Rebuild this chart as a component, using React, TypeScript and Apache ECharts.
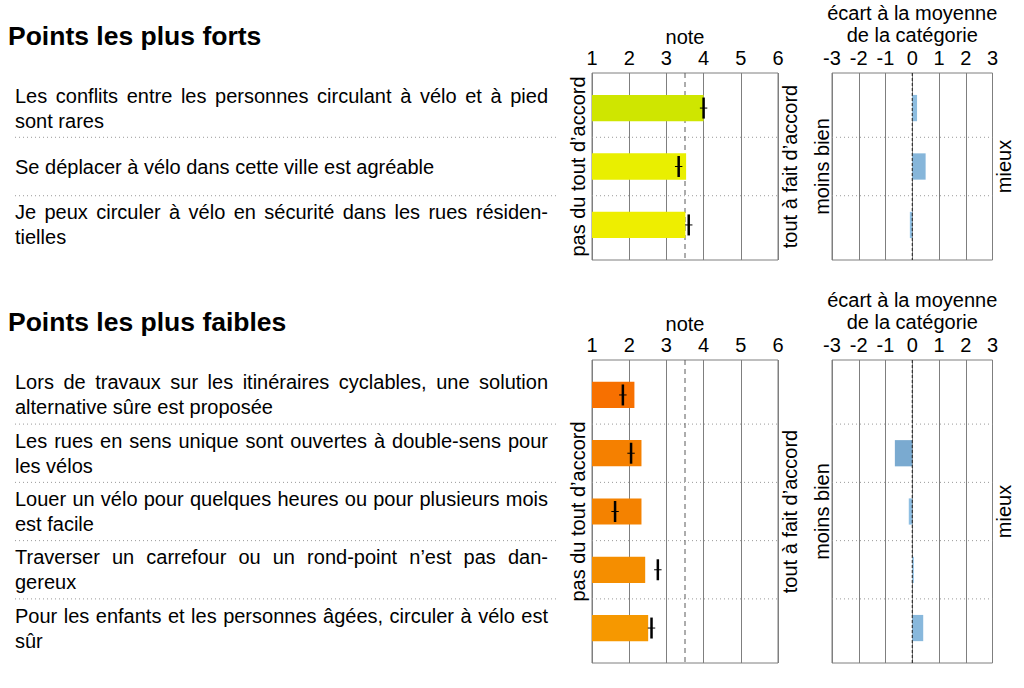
import React, { useEffect, useRef } from "react";
import * as echarts from "echarts";

const FONT = "'Liberation Sans', Arial, Helvetica, sans-serif";

// ---------- data ----------
const strongTitle = "Points les plus forts";
const weakTitle = "Points les plus faibles";

const strongLabels: string[][] = [
  ["Les conflits entre les personnes circulant à vélo et à pied", "sont rares"],
  ["Se déplacer à vélo dans cette ville est agréable"],
  ["Je peux circuler à vélo en sécurité dans les rues résiden-", "tielles"],
];
const strongNote = [4.0, 3.53, 3.51];
const strongMarker = [4.0, 3.33, 3.6];
const strongEcart = [0.18, 0.5, -0.09];
const strongColors = ["#cfe600", "#e9ef00", "#eeee00"];
const strongEcartColors = ["#8dbde0", "#86b6da", "#92c2e6"];

const weakLabels: string[][] = [
  ["Lors de travaux sur les itinéraires cyclables, une solution", "alternative sûre est proposée"],
  ["Les rues en sens unique sont ouvertes à double-sens pour", "les vélos"],
  ["Louer un vélo pour quelques heures ou pour plusieurs mois", "est facile"],
  ["Traverser un carrefour ou un rond-point n’est pas dan-", "gereux"],
  ["Pour les enfants et les personnes âgées, circuler à vélo est", "sûr"],
];
const weakNote = [2.14, 2.33, 2.33, 2.43, 2.51];
const weakMarker = [1.83, 2.05, 1.62, 2.77, 2.6];
const weakEcart = [0, -0.65, -0.13, 0.06, 0.41];
const weakColors = ["#f77000", "#f58000", "#f48200", "#f58e00", "#f69800"];
const weakEcartColors = ["#8dbde0", "#7aaad0", "#8fbfe3", "#96c6ea", "#88b8dc"];

const markerHalfWidth = 0.1;
const meanNote = 3.5;
const noteMin = 1;
const noteMax = 6;
const ecartMin = -3;
const ecartMax = 3;

const noteName = "note";
const ecartName = "écart à la moyenne\nde la catégorie";
const leftNoteName = "pas du tout d’accord";
const rightNoteName = "tout à fait d’accord";
const leftEcartName = "moins bien";
const rightEcartName = "mieux";

// ---------- layout ----------
const TEXT_SIZE = 20;
const LINE_H = 25;
const JUSTIFY_W = 533;
const BAR_H = 0.45;
const MARK_H = 0.36;

let measureCtx: CanvasRenderingContext2D | null = null;
function measure(t: string): number {
  if (!measureCtx) measureCtx = document.createElement("canvas").getContext("2d");
  measureCtx!.font = `${TEXT_SIZE}px 'Liberation Sans'`;
  return measureCtx!.measureText(t).width;
}

function textEl(text: string, x: number, y: number) {
  return {
    type: "text",
    style: {
      text,
      x,
      y,
      fill: "#000",
      fontSize: TEXT_SIZE,
      fontFamily: FONT,
      align: "left",
      verticalAlign: "middle",
    },
  };
}

function labelRender(labels: string[][]) {
  return (params: any, api: any) => {
    const lines = labels[params.dataIndex];
    const c = api.coord([0, api.value(1)]);
    const x0 = params.coordSys.x;
    const children: any[] = [];
    lines.forEach((line, li) => {
      const y = c[1] + (li - (lines.length - 1) / 2) * LINE_H;
      const justify = li < lines.length - 1;
      if (!justify) {
        children.push(textEl(line, x0, y));
      } else {
        const words = line.split(" ");
        const widths = words.map(measure);
        const total = widths.reduce((a, b) => a + b, 0);
        const gap = (JUSTIFY_W - total) / (words.length - 1);
        let x = x0;
        words.forEach((w, wi) => {
          children.push(textEl(w, x, y));
          x += widths[wi] + gap;
        });
      }
    });
    return { type: "group", children };
  };
}

function noteBarRender(colors: string[]) {
  return (params: any, api: any) => {
    const y = api.value(1);
    const v = api.value(0);
    const m = api.value(2);
    const p0 = api.coord([noteMin, y]);
    const p1 = api.coord([v, y]);
    const h = api.size([0, BAR_H])[1];
    const mh = api.size([0, MARK_H])[1];
    const pm = api.coord([m, y]);
    const pl = api.coord([m - markerHalfWidth, y]);
    const pr = api.coord([m + markerHalfWidth, y]);
    return {
      type: "group",
      children: [
        {
          type: "rect",
          shape: { x: p0[0], y: p0[1] - h / 2, width: p1[0] - p0[0], height: h },
          style: { fill: colors[params.dataIndex] },
        },
        {
          type: "line",
          shape: { x1: pm[0], y1: pm[1] - mh / 2, x2: pm[0], y2: pm[1] + mh / 2 },
          style: { stroke: "#000", lineWidth: 2.5 },
        },
        {
          type: "line",
          shape: { x1: pl[0], y1: pl[1], x2: pr[0], y2: pr[1] },
          style: { stroke: "#000", lineWidth: 1 },
        },
      ],
    };
  };
}

function ecartBarRender(colors: string[]) {
  return (params: any, api: any) => {
    const y = api.value(1);
    const v = api.value(0);
    const p0 = api.coord([0, y]);
    const p1 = api.coord([v, y]);
    const h = api.size([0, BAR_H])[1];
    return {
      type: "rect",
      shape: {
        x: Math.min(p0[0], p1[0]),
        y: p0[1] - h / 2,
        width: Math.abs(p1[0] - p0[0]),
        height: h,
      },
      style: { fill: colors[params.dataIndex] },
    };
  };
}

function separatorRender(params: any, api: any) {
  const p = api.coord([api.value(0), api.value(1)]);
  const cs = params.coordSys;
  return {
    type: "line",
    shape: { x1: cs.x, y1: p[1], x2: cs.x + cs.width, y2: p[1] },
    style: { stroke: "#9a9a9a", lineWidth: 1, lineDash: [1, 3] },
  };
}

function buildOption() {
  const panels = [
    { top: 73, height: 187, n: strongLabels.length, labels: strongLabels, note: strongNote, marker: strongMarker, ecart: strongEcart, colors: strongColors, ecolors: strongEcartColors },
    { top: 360, height: 303, n: weakLabels.length, labels: weakLabels, note: weakNote, marker: weakMarker, ecart: weakEcart, colors: weakColors, ecolors: weakEcartColors },
  ];
  const grid: any[] = [];
  const xAxis: any[] = [];
  const yAxis: any[] = [];
  const series: any[] = [];
  const nameStyle = { fontSize: 20, color: "#000", fontFamily: FONT };
  const hiddenY = (gi: number, n: number, extra: any = {}) => ({
    gridIndex: gi,
    type: "value",
    min: 0.4,
    max: n + 0.6,
    inverse: true,
    axisLine: { show: false },
    axisTick: { show: false },
    axisLabel: { show: false },
    splitLine: { show: false },
    ...extra,
  });

  panels.forEach((p, pi) => {
    const gText = pi * 3;
    const gNote = pi * 3 + 1;
    const gEcart = pi * 3 + 2;
    grid.push({ left: 15, top: p.top, width: 541, height: p.height, show: false });
    grid.push({ left: 592, top: p.top, width: 186, height: p.height, show: true, borderColor: "#7f7f7f", borderWidth: 1 });
    grid.push({ left: 832, top: p.top, width: 160.5, height: p.height, show: true, borderColor: "#7f7f7f", borderWidth: 1 });

    xAxis.push({ gridIndex: gText, type: "value", min: 0, max: 1, show: false });
    xAxis.push({
      gridIndex: gNote, type: "value", position: "top", min: noteMin, max: noteMax, interval: 1,
      name: noteName, nameLocation: "middle", nameGap: 26, nameTextStyle: nameStyle,
      axisLine: { show: false }, axisTick: { show: false },
      axisLabel: { fontSize: 20, color: "#000", fontFamily: FONT, margin: 5 },
      splitLine: { show: true, lineStyle: { color: "#7f7f7f", width: 1 } },
    });
    xAxis.push({
      gridIndex: gEcart, type: "value", position: "top", min: ecartMin, max: ecartMax, interval: 1,
      name: ecartName, nameLocation: "middle", nameGap: 27,
      nameTextStyle: { ...nameStyle, lineHeight: 22 },
      axisLine: { show: false }, axisTick: { show: false },
      axisLabel: { fontSize: 20, color: "#000", fontFamily: FONT, margin: 5 },
      splitLine: { show: true, lineStyle: { color: "#7f7f7f", width: 1 } },
    });

    yAxis[gText] = hiddenY(gText, p.n);
    yAxis[gNote] = hiddenY(gNote, p.n, {
      position: "left", name: leftNoteName, nameLocation: "middle", nameRotate: 90, nameGap: 4, nameTextStyle: nameStyle,
    });
    yAxis[gEcart] = hiddenY(gEcart, p.n, {
      position: "left", name: leftEcartName, nameLocation: "middle", nameRotate: 90, nameGap: 0, nameTextStyle: nameStyle,
    });
  });
  // right-side y axes (names only)
  panels.forEach((p, pi) => {
    const gNote = pi * 3 + 1;
    const gEcart = pi * 3 + 2;
    yAxis.push(hiddenY(gNote, p.n, {
      position: "right", name: rightNoteName, nameLocation: "middle", nameRotate: 90, nameGap: 2, nameTextStyle: nameStyle,
    }));
    yAxis.push(hiddenY(gEcart, p.n, {
      position: "right", name: rightEcartName, nameLocation: "middle", nameRotate: 90, nameGap: 1, nameTextStyle: nameStyle,
    }));
  });

  panels.forEach((p, pi) => {
    const gText = pi * 3;
    const gNote = pi * 3 + 1;
    const gEcart = pi * 3 + 2;
    const bounds: number[][] = [];
    for (let i = 1; i < p.n; i++) bounds.push([0, i + 0.5]);
    const noteBounds = bounds.map((b) => [noteMin, b[1]]);

    // separators
    [gText, gNote, gEcart].forEach((g) => {
      series.push({
        type: "custom", xAxisIndex: g, yAxisIndex: g, silent: true, z: 1,
        data: g === gNote ? noteBounds : bounds,
        renderItem: separatorRender,
      });
    });
    // labels
    series.push({
      type: "custom", xAxisIndex: gText, yAxisIndex: gText, silent: true,
      data: p.labels.map((_, i) => [0, i + 1]),
      renderItem: labelRender(p.labels),
    });
    // mean line
    series.push({
      type: "line", xAxisIndex: gNote, yAxisIndex: gNote, silent: true, z: 1,
      symbol: "none", data: [[meanNote, 0.4], [meanNote, p.n + 0.6]],
      lineStyle: { color: "#5a5a5a", width: 1, type: [5, 4] },
    });
    // note bars + markers
    series.push({
      type: "custom", xAxisIndex: gNote, yAxisIndex: gNote, silent: true, z: 2,
      data: p.note.map((v, i) => [v, i + 1, p.marker[i]]),
      renderItem: noteBarRender(p.colors),
    });
    // zero line
    series.push({
      type: "line", xAxisIndex: gEcart, yAxisIndex: gEcart, silent: true, z: 3,
      symbol: "none", data: [[0, 0.4], [0, p.n + 0.6]],
      lineStyle: { color: "#222", width: 1, type: [3, 2] },
    });
    // ecart bars
    series.push({
      type: "custom", xAxisIndex: gEcart, yAxisIndex: gEcart, silent: true, z: 2,
      data: p.ecart.map((v, i) => [v, i + 1]),
      renderItem: ecartBarRender(p.ecolors),
    });
  });

  return {
    animation: false,
    backgroundColor: "#fff",
    title: [
      { text: strongTitle, left: 8, top: 22, padding: 0, textStyle: { fontSize: 26.5, fontWeight: "bold", color: "#000", fontFamily: FONT } },
      { text: weakTitle, left: 8, top: 308, padding: 0, textStyle: { fontSize: 26.5, fontWeight: "bold", color: "#000", fontFamily: FONT } },
    ],
    grid,
    xAxis,
    yAxis,
    series,
  };
}

export default function App() {
  const ref = useRef<HTMLDivElement>(null);
  useEffect(() => {
    const chart = echarts.init(ref.current!, null, { renderer: "svg" });
    chart.setOption(buildOption() as any);
    return () => chart.dispose();
  }, []);
  return (
    <div
      ref={ref}
      style={{ position: "absolute", left: 0, top: 0, width: 1024, height: 688, background: "#fff" }}
    />
  );
}
